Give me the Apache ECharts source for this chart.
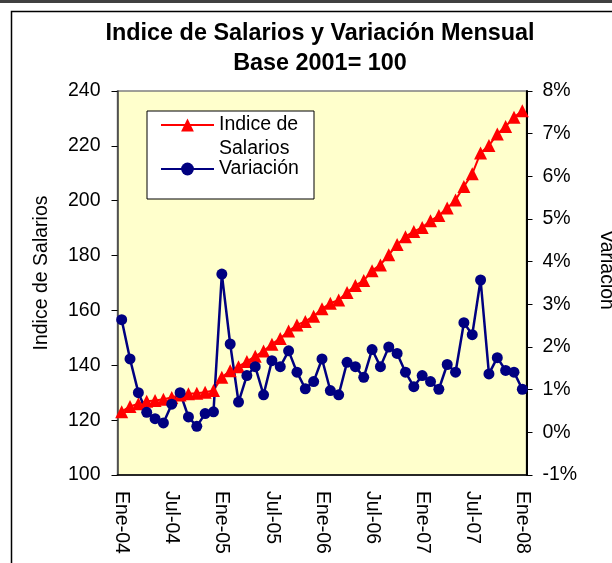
<!DOCTYPE html>
<html>
<head>
<meta charset="utf-8">
<script src="https://cdn.jsdelivr.net/npm/echarts@6/dist/echarts.min.js"></script>
<style>
html,body{margin:0;padding:0;background:#fff;}
#chart{width:612px;height:563px;}
</style>
</head>
<body>
<div id="chart"></div>
<script>
var categories = ['Ene-04','Feb-04','Mar-04','Abr-04','May-04','Jun-04','Jul-04','Ago-04','Sep-04','Oct-04','Nov-04','Dic-04',
  'Ene-05','Feb-05','Mar-05','Abr-05','May-05','Jun-05','Jul-05','Ago-05','Sep-05','Oct-05','Nov-05','Dic-05',
  'Ene-06','Feb-06','Mar-06','Abr-06','May-06','Jun-06','Jul-06','Ago-06','Sep-06','Oct-06','Nov-06','Dic-06',
  'Ene-07','Feb-07','Mar-07','Abr-07','May-07','Jun-07','Jul-07','Ago-07','Sep-07','Oct-07','Nov-07','Dic-07',
  'Ene-08'];
var indiceSalarios = [123.1,125.0,126.0,126.9,127.2,127.6,128.3,129.2,129.6,129.8,130.2,130.8,
  135.6,138.0,139.5,141.4,143.3,145.2,147.7,149.8,152.5,154.7,156.0,157.9,
  160.6,162.6,163.8,166.5,169.1,170.9,174.5,176.6,180.3,184.0,186.9,188.8,
  190.2,192.7,194.6,197.3,200.3,205.2,209.8,217.4,220.1,224.3,227.1,230.4,
  232.8];
var variacion = [2.64,1.72,0.93,0.47,0.32,0.22,0.66,0.93,0.36,0.14,0.44,0.48,
  3.71,2.07,0.71,1.33,1.54,0.88,1.68,1.54,1.91,1.41,1.02,1.19,
  1.72,0.98,0.88,1.64,1.54,1.29,1.94,1.54,2.00,1.85,1.41,1.07,
  1.33,1.19,1.01,1.59,1.41,2.57,2.29,3.57,1.37,1.75,1.45,1.41,
  1.01];
var leftTicks = {min:100, max:240, interval:20};
var rightTicks = {min:-1, max:8, interval:1};

var FONT = 'Liberation Sans, Arial, Helvetica, sans-serif';
var chart = echarts.init(document.getElementById('chart'), null, {renderer:'canvas'});
chart.setOption({
  animation:false,
  backgroundColor:'#ffffff',
  title:{
    text:'Indice de Salarios y Variación Mensual\nBase 2001= 100',
    left:315, top:14, textAlign:'center',
    textStyle:{fontFamily:FONT, fontWeight:'bold', fontSize:23.4, lineHeight:30, color:'#000'}
  },
  graphic:[
    {type:'rect', z:0, silent:true, shape:{x:0,y:0,width:612,height:3}, style:{fill:'#404040'}},
    {type:'rect', z:0, silent:true, shape:{x:11.5,y:11.5,width:700,height:700}, style:{fill:'none', stroke:'#000', lineWidth:1.5}},
    {type:'rect', z:3, silent:true, shape:{x:147,y:111,width:167,height:88}, style:{fill:'#ffffff', stroke:'#000', lineWidth:1}}
  ],
  legend:{
    orient:'vertical', left:155, top:84, itemWidth:53, itemHeight:16, itemGap:-4,
    padding:5, z:5,
    textStyle:{fontFamily:FONT, fontSize:19.5, lineHeight:24, color:'#000'},
    formatter:function(n){ return n === 'Indice de Salarios' ? '\nIndice de\nSalarios' : n; },
    data:['Indice de Salarios','Variación']
  },
  grid:{left:117.5, right:85.5, top:91, bottom:88, show:true, outerBoundsMode:'none',
        backgroundColor:'#FFFFCC', borderColor:'#808080', borderWidth:1.5},
  xAxis:{
    type:'category', data:categories, boundaryGap:true,
    axisLine:{onZero:false, lineStyle:{color:'#000', width:1.5}},
    axisTick:{interval:5, length:5, lineStyle:{color:'#000'}},
    axisLabel:{interval:5, rotate:-90, margin:16, fontFamily:FONT, fontSize:19.5, color:'#000'},
    splitLine:{show:false}
  },
  yAxis:[
    {type:'value', position:'left', min:leftTicks.min, max:leftTicks.max, interval:leftTicks.interval,
     name:'Indice de Salarios', nameLocation:'middle', nameGap:66,
     nameTextStyle:{fontFamily:FONT, fontSize:19.5, color:'#000', padding:[0,0,0,20]},
     axisLine:{show:true, lineStyle:{color:'#404040', width:1.5}},
     axisTick:{show:true, length:6, lineStyle:{color:'#000'}},
     axisLabel:{margin:17, fontFamily:FONT, fontSize:19.5, color:'#000'},
     splitLine:{show:false}},
    {type:'value', position:'right', min:rightTicks.min, max:rightTicks.max, interval:rightTicks.interval,
     name:'Variación', nameLocation:'middle', nameGap:70, nameRotate:-90,
     nameTextStyle:{fontFamily:FONT, fontSize:19.5, color:'#000', padding:[0,26,0,0]},
     axisLine:{show:true, lineStyle:{color:'#000', width:2}},
     axisTick:{show:true, length:6, lineStyle:{color:'#000'}},
     axisLabel:{margin:16, fontFamily:FONT, fontSize:19.5, color:'#000', formatter:'{value}%'},
     splitLine:{show:false}}
  ],
  series:[
    {name:'Indice de Salarios', type:'line', data:indiceSalarios, yAxisIndex:0,
     symbol:'triangle', symbolSize:13, showAllSymbol:true,
     itemStyle:{color:'#FF0000'}, lineStyle:{color:'#FF0000', width:2}},
    {name:'Variación', type:'line', data:variacion, yAxisIndex:1,
     symbol:'circle', symbolSize:11, showAllSymbol:true,
     itemStyle:{color:'#000080'}, lineStyle:{color:'#000080', width:2.5}}
  ]
});
</script>
</body>
</html>
